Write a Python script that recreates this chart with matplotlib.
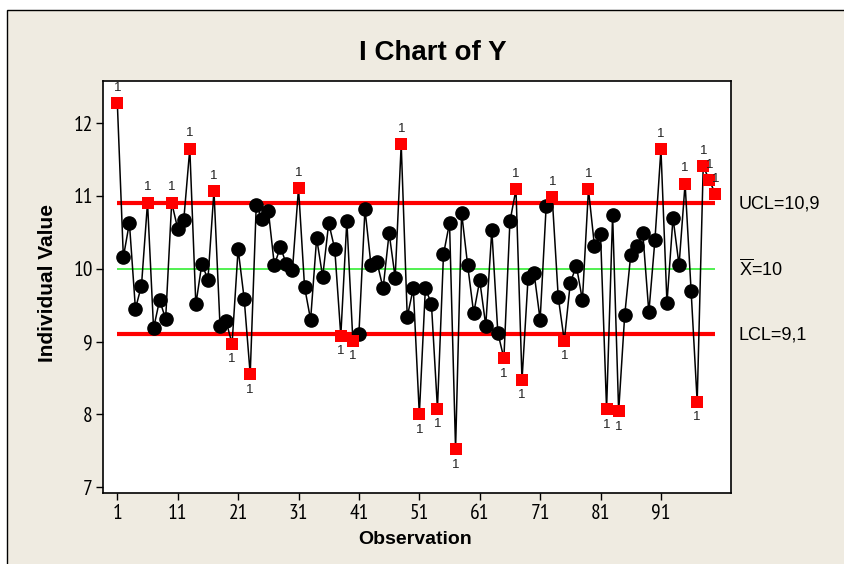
import matplotlib
matplotlib.use("Agg")
import matplotlib.pyplot as plt
from matplotlib.patches import Rectangle
import numpy as np

plt.rcParams['mathtext.fontset'] = 'custom'
plt.rcParams['mathtext.rm'] = 'Liberation Sans'

# ---- data ----
observations = list(range(1, 101))
values = [12.28, 10.16, 10.63, 9.45, 9.77, 10.91, 9.18, 9.57, 9.31, 10.91,
          10.55, 10.67, 11.65, 9.51, 10.07, 9.85, 11.07, 9.22, 9.28, 8.97,
          10.27, 9.59, 8.55, 10.87, 10.68, 10.80, 10.05, 10.30, 10.06, 9.99,
          11.11, 9.75, 9.30, 10.42, 9.89, 10.63, 10.27, 9.08, 10.66, 9.01,
          9.11, 10.82, 10.05, 10.09, 9.73, 10.49, 9.88, 11.71, 9.34, 9.73,
          8.00, 9.73, 9.52, 8.08, 10.20, 10.63, 7.52, 10.77, 10.05, 9.39,
          9.84, 9.22, 10.53, 9.12, 8.77, 10.65, 11.09, 8.47, 9.87, 9.94,
          9.30, 10.86, 10.98, 9.61, 9.01, 9.81, 10.04, 9.57, 11.09, 10.31,
          10.48, 8.07, 10.74, 8.04, 9.36, 10.19, 10.31, 10.49, 9.40, 10.39,
          11.64, 9.53, 10.70, 10.05, 11.17, 9.69, 8.17, 11.41, 11.22, 11.03]
center = 10.0
ucl = 10.9
lcl = 9.1
x_ticks = [1, 11, 21, 31, 41, 51, 61, 71, 81, 91]
y_ticks = [7, 8, 9, 10, 11, 12]
title = "I Chart of Y"
xlabel = "Observation"
ylabel = "Individual Value"

NARROW = ['PT Sans Narrow', 'Archivo Narrow', 'Liberation Sans']
REG = ['Liberation Sans', 'DejaVu Sans']

W, H = 845, 564
fig = plt.figure(figsize=(W / 100, H / 100), dpi=100, facecolor='white')
bg = '#EFEBE1'
fig.patches.append(Rectangle((7.5 / W, -0.1), 1.2, 1.1 - 10.5 / H,
                             transform=fig.transFigure, facecolor=bg,
                             edgecolor='black', linewidth=1.0, zorder=-10))

ax = fig.add_axes([102.7 / W, (H - 493.3) / H, (731 - 102.7) / W, (493.3 - 81) / H])
ax.set_facecolor('white')

x = np.array(observations)
y = np.array(values)
first, last = observations[0], observations[-1]

ax.hlines([ucl, lcl], first, last, colors='#FF0000', linewidth=3.0, zorder=1)
ax.hlines([center], first, last, colors='#33EE33', linewidth=1.2, zorder=1)

ax.plot(x, y, color='black', linewidth=1.1, zorder=2)
out = (y > ucl) | (y < lcl)
ax.plot(x[~out], y[~out], 'o', color='black', markersize=9.5, zorder=3)
ax.plot(x[out], y[out], 's', color='#FF0000', markersize=8.5,
        markeredgewidth=0, zorder=4)
for xi, yi in zip(x[out], y[out]):
    dy = 11 if yi > ucl else -11
    ax.annotate('1', (xi, yi), xytext=(0, dy), textcoords='offset points',
                ha='center', va='center', fontsize=9.5, color='#222222',
                family=REG, zorder=5)

ax.set_xlim(-1.42, 102.6)
ax.set_ylim(6.915, 12.58)
ax.set_xticks(x_ticks)
ax.set_xticklabels([str(t) for t in x_ticks], family=NARROW, fontsize=15.5)
ax.set_yticks(y_ticks)
ax.set_yticklabels([str(t) for t in y_ticks], family=NARROW, fontsize=15.5)
ax.tick_params(axis='both', direction='out', length=5, width=1.0, color='black')
ax.tick_params(axis='x', pad=2.5)
ax.tick_params(axis='y', pad=2)
for s in ax.spines.values():
    s.set_linewidth(1.2)
    s.set_color('black')

fig.text(433 / W, 1 - 53 / H, title, ha='center', va='center',
         family=REG, fontweight='bold', fontsize=20)
fig.text(415 / W, 1 - 539 / H, xlabel, ha='center', va='center',
         family=REG, fontweight='bold', fontsize=14)
fig.text(48 / W, 1 - 283 / H, ylabel, ha='center', va='center', rotation=90,
         family=REG, fontweight='bold', fontsize=15)

tx = 739 / W
fig.text(tx, 1 - 204 / H, "UCL=10,9", ha='left', va='center',
         family=REG, fontsize=13)
fig.text(tx, 1 - 269 / H, r"$\overline{\mathrm{X}}$=10", ha='left', va='center',
         family=REG, fontsize=13)
fig.text(tx, 1 - 335 / H, "LCL=9,1", ha='left', va='center',
         family=REG, fontsize=13)

fig.savefig('out.png', dpi=100, facecolor=fig.get_facecolor())
